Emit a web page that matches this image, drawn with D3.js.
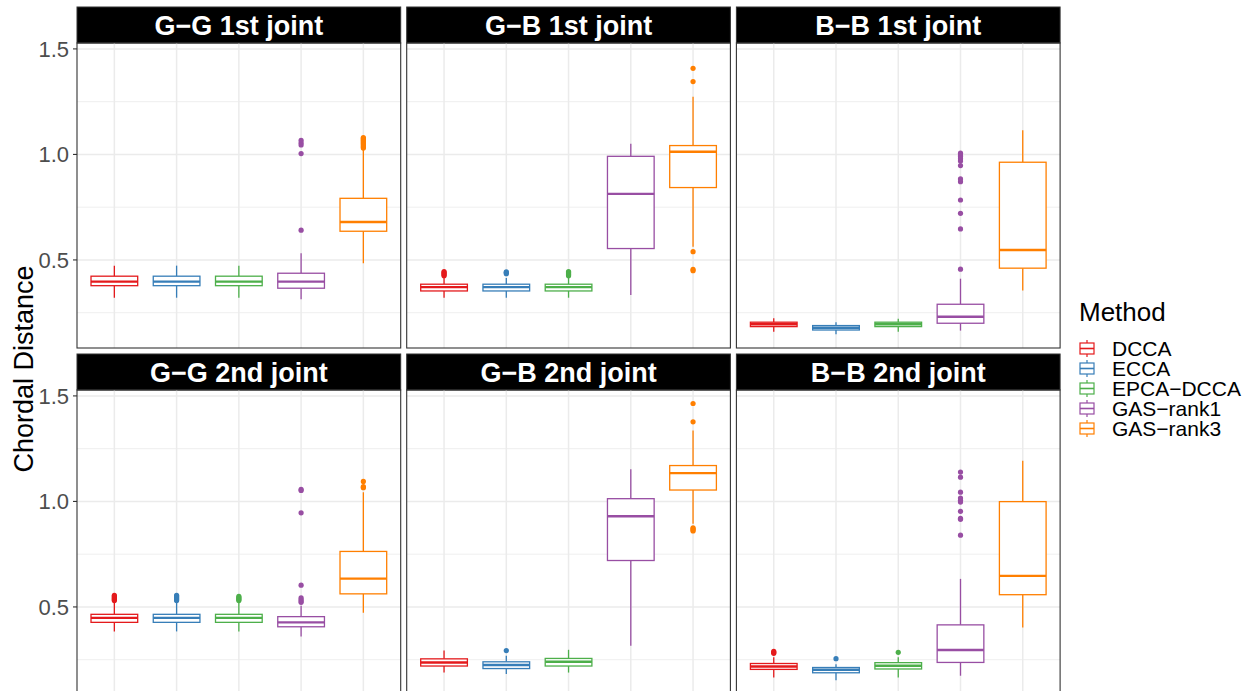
<!DOCTYPE html>
<html>
<head>
<meta charset="utf-8">
<script src="https://cdn.jsdelivr.net/npm/d3@7"></script>
<style>
  body { margin: 0; background: #fff; }
  #main { width: 1247px; height: 691px; overflow: hidden; }
  text { font-family: "Liberation Sans", Arial, sans-serif; }
</style>
</head>
<body>
<div id="main"></div>
<script>
// Methods and colours (Set1)
const methods = ["DCCA", "ECCA", "EPCA\u2212DCCA", "GAS\u2212rank1", "GAS\u2212rank3"];
const colors = ["#E41A1C", "#377EB8", "#4DAF4A", "#984EA3", "#FF7F00"];
const facets = ["G\u2212G 1st joint", "G\u2212B 1st joint", "B\u2212B 1st joint",
                "G\u2212G 2nd joint", "G\u2212B 2nd joint", "B\u2212B 2nd joint"];

// box stats per method: [lower whisker, q1, median, q3, upper whisker]
const ggFirst = [
    [0.321, 0.378, 0.397, 0.423, 0.473],
    [0.321, 0.378, 0.397, 0.423, 0.473],
    [0.321, 0.378, 0.397, 0.423, 0.473],
    [0.314, 0.366, 0.397, 0.437, 0.532],
    [0.484, 0.636, 0.680, 0.792, 1.021]
];
const ggFirstOut = [[], [], [], [0.641, 1.004, 1.045, 1.055, 1.067],
    [1.03, 1.035, 1.04, 1.045, 1.05, 1.055, 1.06, 1.065, 1.07, 1.075, 1.08]];

const gbFirst = [
    [0.321, 0.353, 0.371, 0.385, 0.415],
    [0.321, 0.353, 0.371, 0.385, 0.415],
    [0.321, 0.353, 0.371, 0.385, 0.415],
    [0.334, 0.554, 0.813, 0.991, 1.050],
    [0.563, 0.843, 1.013, 1.042, 1.273]
];
const gbFirstOut = [[0.425, 0.43, 0.435, 0.44, 0.445], [0.435, 0.44, 0.443],
    [0.425, 0.43, 0.435, 0.44, 0.445], [], [0.449, 0.455, 0.539, 1.345, 1.408]];

const bbFirst = [
    [0.160, 0.184, 0.195, 0.205, 0.224],
    [0.148, 0.168, 0.179, 0.189, 0.205],
    [0.160, 0.184, 0.195, 0.205, 0.221],
    [0.165, 0.200, 0.231, 0.290, 0.411],
    [0.355, 0.461, 0.547, 0.963, 1.115]
];
const bbFirstOut = [[], [], [], [0.456, 0.647, 0.721, 0.784, 0.871, 0.884, 0.947, 0.969,
    0.98, 0.99, 0.997, 1.006], []];

const ggSecond = [
    [0.384, 0.427, 0.448, 0.465, 0.522],
    [0.384, 0.427, 0.448, 0.465, 0.522],
    [0.384, 0.427, 0.448, 0.465, 0.522],
    [0.360, 0.406, 0.427, 0.454, 0.506],
    [0.472, 0.562, 0.634, 0.763, 1.044]
];
const ggSecondOut = [[0.53, 0.535, 0.54, 0.545, 0.55, 0.555],
    [0.53, 0.535, 0.54, 0.545, 0.55, 0.555], [0.53, 0.535, 0.54, 0.545, 0.55],
    [0.522, 0.528, 0.535, 0.543, 0.603, 0.946, 1.052, 1.057], [1.065, 1.07, 1.095]];

const gbSecond = [
    [0.189, 0.220, 0.237, 0.254, 0.293],
    [0.182, 0.208, 0.225, 0.240, 0.269],
    [0.189, 0.220, 0.240, 0.256, 0.297],
    [0.316, 0.720, 0.930, 1.013, 1.152],
    [0.894, 1.054, 1.134, 1.170, 1.336]
];
const gbSecondOut = [[], [0.293], [], [], [0.86, 0.865, 0.87, 0.875, 1.377, 1.464]];

const bbSecond = [
    [0.166, 0.204, 0.218, 0.232, 0.261],
    [0.153, 0.188, 0.202, 0.213, 0.229],
    [0.166, 0.206, 0.221, 0.236, 0.261],
    [0.174, 0.237, 0.296, 0.415, 0.633],
    [0.403, 0.558, 0.647, 0.999, 1.193]
];
const bbSecondOut = [[0.28, 0.285, 0.29], [0.255], [0.285],
    [0.840, 0.915, 0.92, 0.953, 0.997, 1.005, 1.016, 1.044, 1.115, 1.139], []];

const yMajor = [0.5, 1.0, 1.5];
const yMinor = [0.25, 0.75, 1.25];

function createChart() {
    d3.select("#main svg").remove();
    const width = 1247, height = 691;
    const svg = d3.select("#main").append("svg")
        .attr("width", width)
        .attr("height", height);

    const stats = [ggFirst, gbFirst, bbFirst, ggSecond, gbSecond, bbSecond];
    const outs = [ggFirstOut, gbFirstOut, bbFirstOut, ggSecondOut, gbSecondOut, bbSecondOut];

    // layout
    const left0 = 77, panelW = 323.7, gapX = 6;
    const top0 = 7, stripH = 36, plotH = 305, gapY = 6;

    const x = d3.scalePoint().domain(methods).range([0, panelW]).padding(0.6);
    const boxW = x.step() * 0.75;
    const y = d3.scaleLinear().domain([0.0827, 1.528]).range([plotH, 0]);

    facets.forEach((label, i) => {
        const col = i % 3, row = Math.floor(i / 3);
        const px = left0 + col * (panelW + gapX);
        const py = top0 + row * (stripH + plotH + gapY);
        const g = svg.append("g").attr("transform", `translate(${px},${py})`);

        // strip
        g.append("rect").attr("width", panelW).attr("height", stripH)
            .attr("fill", "#000").attr("stroke", "#333").attr("stroke-width", 1);
        g.append("text").attr("x", panelW / 2).attr("y", 28)
            .attr("text-anchor", "middle").attr("fill", "#fff")
            .attr("font-size", 27).attr("font-weight", "bold").text(label);

        const p = g.append("g").attr("transform", `translate(0,${stripH})`);
        // grid
        p.selectAll(".minor").data(yMinor).enter().append("line")
            .attr("x1", 0).attr("x2", panelW)
            .attr("y1", d => y(d)).attr("y2", d => y(d))
            .attr("stroke", "#EBEBEB").attr("stroke-width", 0.8);
        p.selectAll(".major").data(yMajor).enter().append("line")
            .attr("x1", 0).attr("x2", panelW)
            .attr("y1", d => y(d)).attr("y2", d => y(d))
            .attr("stroke", "#EBEBEB").attr("stroke-width", 1.5);
        p.selectAll(".vmajor").data(methods).enter().append("line")
            .attr("x1", d => x(d)).attr("x2", d => x(d))
            .attr("y1", 0).attr("y2", plotH)
            .attr("stroke", "#EBEBEB").attr("stroke-width", 1.5);

        // boxes
        stats[i].forEach((s, k) => {
            const cx = x(methods[k]);
            const c = colors[k];
            const b = p.append("g");
            b.append("line").attr("x1", cx).attr("x2", cx)
                .attr("y1", y(s[3])).attr("y2", y(s[4]))
                .attr("stroke", c).attr("stroke-width", 1.3);
            b.append("line").attr("x1", cx).attr("x2", cx)
                .attr("y1", y(s[1])).attr("y2", y(s[0]))
                .attr("stroke", c).attr("stroke-width", 1.3);
            b.append("rect").attr("x", cx - boxW / 2).attr("width", boxW)
                .attr("y", y(s[3])).attr("height", y(s[1]) - y(s[3]))
                .attr("fill", "#fff").attr("stroke", c).attr("stroke-width", 1.3);
            b.append("line").attr("x1", cx - boxW / 2).attr("x2", cx + boxW / 2)
                .attr("y1", y(s[2])).attr("y2", y(s[2]))
                .attr("stroke", c).attr("stroke-width", 2.4);
            b.selectAll("circle").data(outs[i][k]).enter().append("circle")
                .attr("cx", cx).attr("cy", d => y(d)).attr("r", 2.6)
                .attr("fill", c);
        });

        // panel border
        p.append("rect").attr("width", panelW).attr("height", plotH)
            .attr("fill", "none").attr("stroke", "#333").attr("stroke-width", 1.1);

        // y axis on first column
        if (col === 0) {
            p.selectAll(".tick").data(yMajor).enter().append("line")
                .attr("x1", -4).attr("x2", 0)
                .attr("y1", d => y(d)).attr("y2", d => y(d))
                .attr("stroke", "#333").attr("stroke-width", 1.1);
            p.selectAll(".tlab").data(yMajor).enter().append("text")
                .attr("x", -8).attr("y", d => y(d)).attr("dy", "0.35em")
                .attr("text-anchor", "end").attr("fill", "#4D4D4D")
                .attr("font-size", 22).text(d => d.toFixed(1));
        }
    });

    // y title
    const midY = top0 + stripH + (2 * plotH + stripH + gapY) / 2;
    svg.append("text")
        .attr("transform", `translate(33,${midY}) rotate(-90)`)
        .attr("text-anchor", "middle").attr("font-size", 27)
        .attr("fill", "#000").text("Chordal Distance");

    // legend
    const lg = svg.append("g").attr("transform", "translate(1079,0)");
    lg.append("text").attr("x", 0).attr("y", 321).attr("font-size", 26)
        .attr("fill", "#000").text("Method");
    methods.forEach((m, k) => {
        const cy = 348.5 + k * 20;
        const c = colors[k];
        const kx = 8;
        lg.append("line").attr("x1", kx).attr("x2", kx).attr("y1", cy - 8.5).attr("y2", cy + 8.5)
            .attr("stroke", c).attr("stroke-width", 1.2);
        lg.append("rect").attr("x", kx - 7).attr("width", 14)
            .attr("y", cy - 5.5).attr("height", 11)
            .attr("fill", "#fff").attr("stroke", c).attr("stroke-width", 1.2);
        lg.append("line").attr("x1", kx - 7).attr("x2", kx + 7).attr("y1", cy).attr("y2", cy)
            .attr("stroke", c).attr("stroke-width", 1.6);
        lg.append("text").attr("x", 33).attr("y", cy + 7.6).attr("font-size", 21)
            .attr("fill", "#000").text(m);
    });
}

document.addEventListener("DOMContentLoaded", function() {
    createChart();
});
</script>
</body>
</html>
